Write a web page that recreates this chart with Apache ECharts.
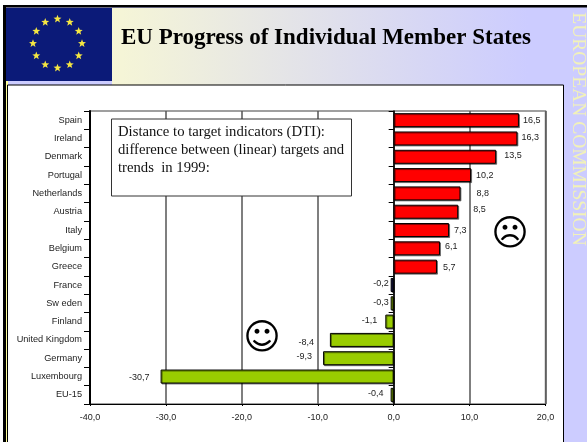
<!DOCTYPE html>
<html>
<head>
    <meta charset="utf-8">
    <title>EU Progress of Individual Member States</title>
    <style>
        html, body { margin: 0; padding: 0; background: #fff; }
        #main { width: 587px; height: 442px; }
    </style>
</head>
<body>
<div id="main"></div>
<script type="text/javascript" src="https://cdn.jsdelivr.net/npm/echarts@6/dist/echarts.min.js"></script>
<script type="text/javascript">
    var countries = ['Spain', 'Ireland', 'Denmark', 'Portugal', 'Netherlands', 'Austria', 'Italy', 'Belgium',
        'Greece', 'France', 'Sw eden', 'Finland', 'United Kingdom', 'Germany', 'Luxembourg', 'EU-15'];
    var dti = [16.5, 16.3, 13.5, 10.2, 8.8, 8.5, 7.3, 6.1, 5.7, -0.2, -0.3, -1.1, -8.4, -9.3, -30.7, -0.4];
    var xTicks = { min: -40, max: 20, interval: 10 };

    // hand placed labels in the original slide, [dx, dy] from the bar end
    var labelNudge = [[0, 0], [0, -1], [4, -1], [1, 0], [12, 0], [11, -2], [1, 0], [1, -2], [2, 1],
        [2, -1], [2, -1], [-4, -1], [-12, 3], [-7, -2], [-7, 1], [-3, -1]];

    function comma(v) { return v.toFixed(1).replace('.', ','); }

    var barData = dti.map(function (v, i) {
        return {
            value: v,
            itemStyle: { color: countries[i] === 'France' ? '#1c1c5c' : (v > 0 ? '#ff0000' : '#99cc00') },
            label: { position: v > 0 ? 'right' : 'left', offset: labelNudge[i] }
        };
    });

    // flag stars
    function starPoints(cx, cy, r) {
        var pts = [];
        for (var k = 0; k < 10; k++) {
            var a = -Math.PI / 2 + k * Math.PI / 5, rr = k % 2 ? r * 0.42 : r;
            pts.push([cx + rr * Math.cos(a), cy + rr * Math.sin(a)]);
        }
        return pts;
    }
    var stars = [];
    for (var s = 0; s < 12; s++) {
        var ang = s * Math.PI / 6;
        stars.push({
            type: 'polygon', z: -1,
            shape: { points: starPoints(57.5 + 24.5 * Math.cos(ang), 43.5 + 24.5 * Math.sin(ang), 4.2) },
            style: { fill: '#f5e642' }
        });
    }

    var chrome = [
        { type: 'rect', z: -5, shape: { x: 6, y: 6, width: 581, height: 436 }, style: { fill: '#ccccff' } },
        { type: 'rect', z: -4, shape: { x: 112, y: 8, width: 452, height: 77 }, style: {
            fill: new echarts.graphic.LinearGradient(0, 0, 1, 0, [
                { offset: 0, color: '#f6f6d6' }, { offset: 0.92, color: '#ccccff' }, { offset: 1, color: '#ccccff' }
            ])
        } },
        { type: 'rect', z: -4, shape: { x: 3, y: 5, width: 584, height: 2.5 }, style: { fill: '#000' } },
        { type: 'rect', z: -4, shape: { x: 3, y: 5, width: 3, height: 437 }, style: { fill: '#000' } },
        { type: 'rect', z: -4, shape: { x: 6, y: 81, width: 2, height: 361 }, style: { fill: '#ffff99' } },
        { type: 'rect', z: -3, shape: { x: 6, y: 8, width: 106, height: 73 }, style: { fill: '#0b1a78' } },
        { type: 'rect', z: -3, shape: { x: 7.5, y: 85, width: 556, height: 360 }, style: { fill: '#fff', stroke: '#000', lineWidth: 1 } },
        { type: 'text', z: 5, x: 121, y: 38, style: {
            text: 'EU Progress of Individual Member States', fill: '#000',
            font: 'bold 23px "Liberation Serif"', verticalAlign: 'middle'
        } },
        { type: 'text', z: 5, x: 578, y: 129, rotation: -Math.PI / 2, style: {
            text: 'EUROPEAN COMMISSION', fill: '#f2f2b8',
            font: '19.5px "Liberation Serif"', align: 'center', verticalAlign: 'middle'
        } },
        { type: 'rect', z: 5, shape: { x: 111.5, y: 119, width: 240, height: 77 }, style: { fill: '#fff', stroke: '#333', lineWidth: 1 } },
        { type: 'text', z: 6, x: 118, y: 123, style: {
            text: 'Distance to target indicators (DTI):\ndifference between (linear) targets and\ntrends  in 1999:',
            fill: '#111', font: '14.7px "Liberation Serif"', lineHeight: 18
        } },
        { type: 'text', z: 6, x: 262, y: 340, style: {
            text: '\u263A', fill: '#000', font: '36px "DejaVu Sans"', align: 'center', verticalAlign: 'middle'
        } },
        { type: 'text', z: 6, x: 510, y: 236, style: {
            text: '\u2639', fill: '#000', font: '36px "DejaVu Sans"', align: 'center', verticalAlign: 'middle'
        } }
    ];

    var myChart = echarts.init(document.getElementById('main'), null, { renderer: 'canvas' });
    var option = {
        animation: false,
        backgroundColor: '#fff',
        graphic: { elements: chrome.concat(stars) },
        grid: {
            left: 90, right: 41.5, top: 111, height: 293,
            show: true, borderColor: '#808080', borderWidth: 1.5, backgroundColor: 'transparent'
        },
        xAxis: {
            type: 'value',
            min: xTicks.min, max: xTicks.max, interval: xTicks.interval,
            axisLine: { show: true, onZero: false, lineStyle: { color: '#000', width: 1 } },
            axisTick: { show: true, length: 2, lineStyle: { color: '#000' } },
            axisLabel: {
                margin: 9, color: '#222', fontSize: 9, fontFamily: 'Liberation Sans',
                formatter: function (v) { return comma(v); }
            },
            splitLine: { show: true, lineStyle: { color: '#555', width: 1.5 } }
        },
        yAxis: [{
            type: 'category',
            inverse: true,
            data: countries,
            position: 'left',
            axisLine: { show: true, onZero: false, lineStyle: { color: '#000', width: 2 } },
            axisTick: { show: true, length: 6, lineStyle: { color: '#000', width: 1 } },
            axisLabel: { margin: 8, color: '#222', fontSize: 9.2, fontFamily: 'Liberation Sans' }
        }, {
            type: 'category',
            inverse: true,
            data: countries,
            position: 'left',
            axisLine: { show: true, onZero: true, lineStyle: { color: '#000', width: 1.5 } },
            axisTick: { show: true, length: 5, lineStyle: { color: '#000', width: 1 } },
            axisLabel: { show: false }
        }],
        series: [{
            type: 'bar',
            yAxisIndex: 0,
            barWidth: 14,
            barMinHeight: 3,
            data: barData,
            itemStyle: {
                borderColor: '#000', borderWidth: 1,
                shadowColor: 'rgba(0,0,0,0.45)', shadowBlur: 0, shadowOffsetX: 1, shadowOffsetY: 1
            },
            label: {
                show: true, distance: 4, color: '#222', fontSize: 9, fontFamily: 'Liberation Sans',
                formatter: function (p) { return comma(p.value); }
            }
        }]
    };
    myChart.setOption(option);
</script>
</body>
</html>
